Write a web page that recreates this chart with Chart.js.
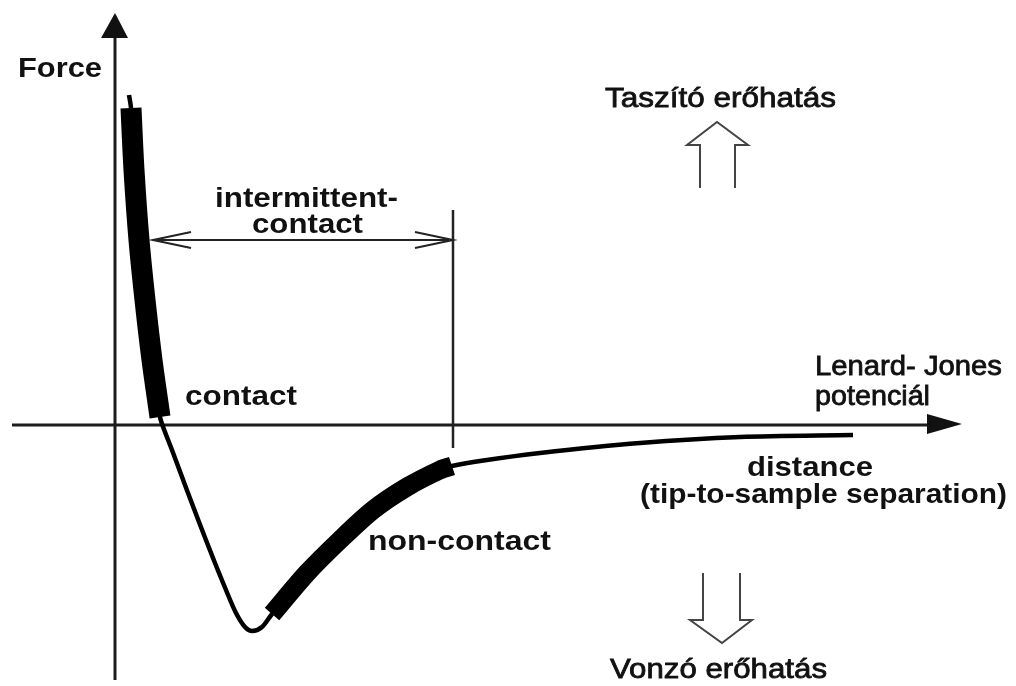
<!DOCTYPE html>
<html>
<head>
<meta charset="utf-8">
<script src="https://cdn.jsdelivr.net/npm/chart.js@4.4.1/dist/chart.umd.min.js"></script>
<style>
  html, body { margin: 0; padding: 0; background: #ffffff; }
  #wrap { width: 1016px; height: 686px; position: relative; }
</style>
</head>
<body>
<div id="wrap"><canvas id="c"></canvas></div>
<script>
// ---- Data (distance in arbitrary units, force in arbitrary units) ----
const curveX = [1.4, 1.6, 1.9, 2.4, 3.0, 3.7, 4.5, 5.0, 5.7, 7.0, 8.4, 9.8, 11.1, 12.1, 13.0, 13.7, 14.7, 15.7, 19.2, 22.5, 25.8, 29.2, 32.5, 33.7, 36.5, 42.5, 52.5, 62.5, 73.8];
const curveY = [33.0, 31.7, 25.5, 18.5, 12.5, 6.5, 0.8, -0.7, -2.5, -6.0, -9.7, -13.3, -16.5, -18.8, -20.2, -20.6, -20.2, -18.9, -14.8, -11.5, -8.5, -6.2, -4.5, -4.1, -3.6, -2.8, -1.8, -1.2, -1.0];

const contactX = [1.6, 1.9, 2.4, 3.0, 3.7, 4.5];
const contactY = [31.7, 25.5, 18.5, 12.5, 6.5, 0.8];

const nonContactX = [15.7, 19.2, 22.5, 25.8, 29.2, 32.5, 33.7];
const nonContactY = [-18.9, -14.8, -11.5, -8.5, -6.2, -4.5, -4.1];

// intermittent-contact range on distance axis
const intermittentRange = [3.8, 33.8];

// axis extents
const xAxisRange = [-10.3, 84.7];
const yAxisRange = [-25.5, 41.2];
const scaleX = [-11.5, 90.1];
const scaleY = [-26.1, 42.5];

// ---- Labels (text, left x, right x, baseline y, kind) ----
const labels = [
  ["Force", -9.7, -1.3, 34.8, "en"],
  ["intermittent-", 10.0, 28.3, 21.8, "en"],
  ["contact", 13.7, 24.8, 19.2, "en"],
  ["contact", 7.0, 18.2, 2.0, "en"],
  ["non-contact", 25.3, 43.6, -12.5, "en"],
  ["distance", 63.2, 75.8, -5.1, "en"],
  ["(tip-to-sample separation)", 52.5, 89.2, -7.8, "en"],
  ["Lenard- Jones", 70.0, 88.7, 5.0, "hu"],
  ["potenciál", 70.0, 81.5, 2.0, "hu"],
  ["Taszító erőhatás", 49.0, 72.1, 31.8, "hu"],
  ["Vonzó erőhatás", 49.5, 71.2, -25.3, "hu"]
];

// hollow arrow anchors (tip positions)
const upArrowTip = [60.2, 30.3];
const downArrowTip = [60.7, -21.8];

const toPts = (xs, ys) => xs.map((x, i) => ({ x: x, y: ys[i] }));

const decor = {
  id: 'decor',
  beforeDatasetsDraw(chart) {
    const ctx = chart.ctx;
    const sx = chart.scales.x, sy = chart.scales.y;
    const X = v => sx.getPixelForValue(v), Y = v => sy.getPixelForValue(v);
    ctx.save();
    ctx.strokeStyle = '#1c1c1c';
    ctx.fillStyle = '#111';
    ctx.lineWidth = 3;
    // y axis
    const x0 = X(0);
    const yTop = Y(yAxisRange[1]);
    ctx.beginPath();
    ctx.moveTo(x0, Y(yAxisRange[0]));
    ctx.lineTo(x0, yTop + 24);
    ctx.stroke();
    ctx.beginPath();
    ctx.moveTo(x0, yTop);
    ctx.lineTo(x0 - 14, yTop + 25);
    ctx.lineTo(x0 + 13, yTop + 25);
    ctx.closePath();
    ctx.fill();
    // x axis
    const y0 = Y(0);
    const xTip = X(xAxisRange[1]);
    ctx.beginPath();
    ctx.moveTo(X(xAxisRange[0]), y0);
    ctx.lineTo(xTip - 34, y0);
    ctx.stroke();
    ctx.beginPath();
    ctx.moveTo(xTip, y0 - 1);
    ctx.lineTo(xTip - 35, y0 - 11);
    ctx.lineTo(xTip - 35, y0 + 9);
    ctx.closePath();
    ctx.fill();

    // intermittent-contact double arrow
    const ya = Y(18.5);
    const xl = X(intermittentRange[0]), xr = X(intermittentRange[1]);
    ctx.lineWidth = 2;
    ctx.strokeStyle = '#222';
    ctx.beginPath();
    ctx.moveTo(xl, ya); ctx.lineTo(xr, ya);
    ctx.moveTo(xl + 38, ya - 8); ctx.lineTo(xl, ya); ctx.lineTo(xl + 38, ya + 8);
    ctx.moveTo(xr - 38, ya - 8); ctx.lineTo(xr, ya); ctx.lineTo(xr - 38, ya + 8);
    ctx.stroke();
    ctx.lineWidth = 2.5;
    ctx.beginPath();
    ctx.moveTo(xr, Y(21.5)); ctx.lineTo(xr, Y(-2.3));
    ctx.stroke();

    // hollow arrows
    ctx.strokeStyle = '#444';
    ctx.lineWidth = 2;
    let tx = X(upArrowTip[0]), ty = Y(upArrowTip[1]);
    ctx.beginPath();
    ctx.moveTo(tx - 17, ty + 66);
    ctx.lineTo(tx - 17, ty + 23);
    ctx.lineTo(tx - 30, ty + 23);
    ctx.lineTo(tx, ty);
    ctx.lineTo(tx + 31, ty + 23);
    ctx.lineTo(tx + 18, ty + 23);
    ctx.lineTo(tx + 18, ty + 66);
    ctx.stroke();
    tx = X(downArrowTip[0]); ty = Y(downArrowTip[1]);
    ctx.beginPath();
    ctx.moveTo(tx - 19, ty - 70);
    ctx.lineTo(tx - 19, ty - 23);
    ctx.lineTo(tx - 32, ty - 23);
    ctx.lineTo(tx, ty);
    ctx.lineTo(tx + 30, ty - 23);
    ctx.lineTo(tx + 18, ty - 23);
    ctx.lineTo(tx + 18, ty - 70);
    ctx.stroke();
    ctx.restore();
  },
  afterDatasetsDraw(chart) {
    const ctx = chart.ctx;
    const sx = chart.scales.x, sy = chart.scales.y;
    ctx.save();
    ctx.fillStyle = '#111';
    ctx.strokeStyle = '#111';
    ctx.textBaseline = 'alphabetic';
    ctx.textAlign = 'left';
    labels.forEach(([t, a, b, yb, kind]) => {
      const px0 = sx.getPixelForValue(a), px1 = sx.getPixelForValue(b);
      const py = sy.getPixelForValue(yb);
      ctx.font = kind === 'en' ? 'bold 27px "Liberation Sans", Arial, sans-serif'
                               : '28px "Liberation Sans", Arial, sans-serif';
      const w = ctx.measureText(t).width;
      const s = (px1 - px0) / w;
      ctx.save();
      ctx.translate(px0, py);
      ctx.scale(s, 1);
      ctx.fillText(t, 0, 0);
      if (kind === 'hu') { ctx.lineWidth = 0.8; ctx.strokeText(t, 0, 0); }
      ctx.restore();
    });
    ctx.restore();
  }
};

new Chart(document.getElementById('c'), {
  type: 'line',
  data: {
    datasets: [
      {
        label: 'force',
        data: toPts(curveX, curveY),
        borderColor: '#000',
        borderWidth: 4.5,
        pointRadius: 0,
        tension: 0.3,
        fill: false,
        order: 3
      },
      {
        label: 'contact',
        data: toPts(contactX, contactY),
        borderColor: '#000',
        borderWidth: 21,
        borderCapStyle: 'butt',
        pointRadius: 0,
        tension: 0.3,
        fill: false,
        order: 2
      },
      {
        label: 'non-contact',
        data: toPts(nonContactX, nonContactY),
        borderColor: '#000',
        borderWidth: 19,
        borderCapStyle: 'butt',
        pointRadius: 0,
        tension: 0.3,
        fill: false,
        order: 1
      }
    ]
  },
  options: {
    responsive: true,
    maintainAspectRatio: false,
    animation: false,
    layout: { padding: 0 },
    plugins: { legend: { display: false }, tooltip: { enabled: false } },
    scales: {
      x: { type: 'linear', min: scaleX[0], max: scaleX[1], display: false },
      y: { type: 'linear', min: scaleY[0], max: scaleY[1], display: false }
    }
  },
  plugins: [decor]
});
</script>
</body>
</html>
